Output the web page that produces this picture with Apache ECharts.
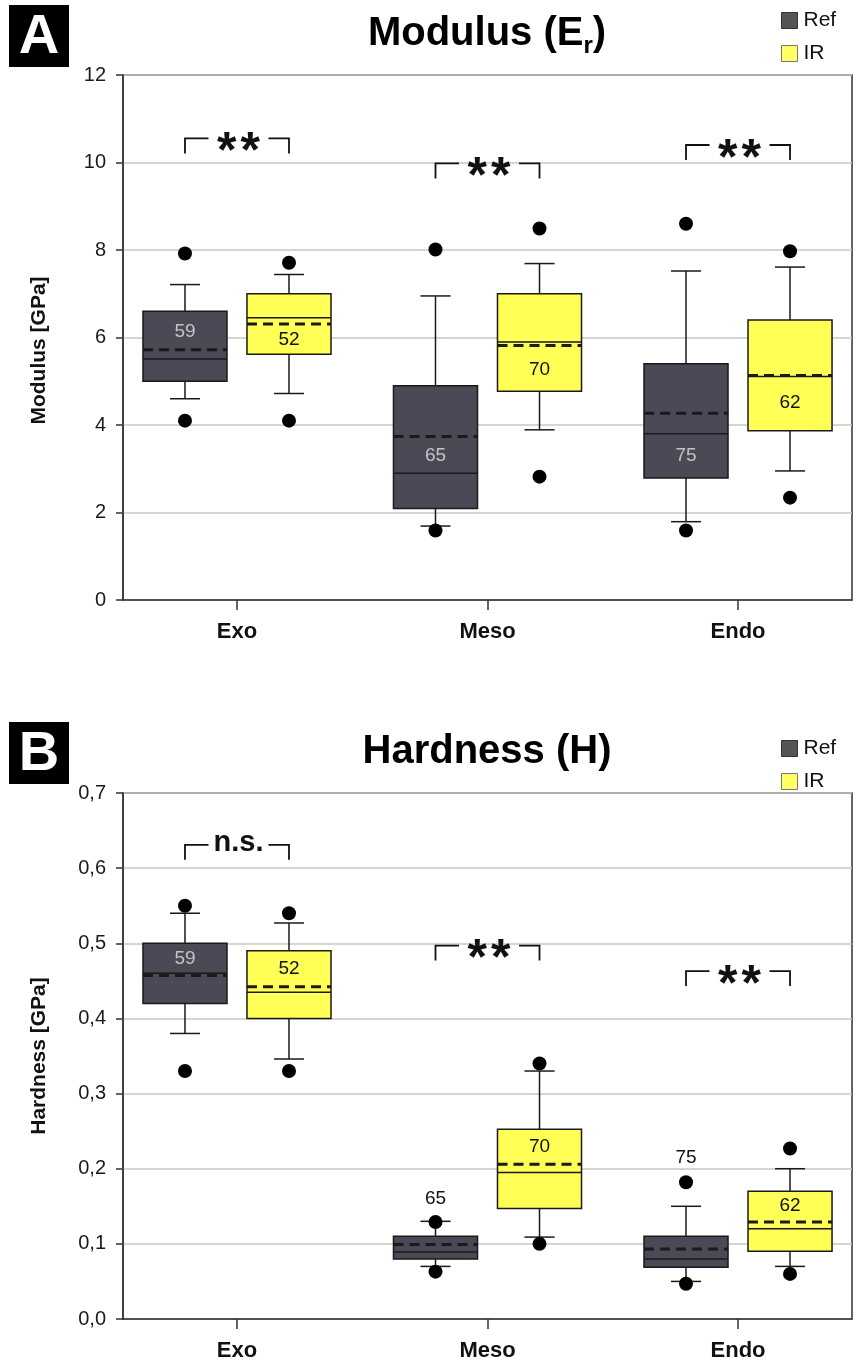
<!DOCTYPE html>
<html>
<head>
<meta charset="utf-8">
<script src="https://cdn.jsdelivr.net/npm/echarts@6/dist/echarts.min.js"></script>
<style>
  html, body { margin: 0; padding: 0; background: #fff; }
  #chart { width: 854px; height: 1363px; }
</style>
</head>
<body>
<div id="chart"></div>
<script>
const categories = ['Exo', 'Meso', 'Endo'];

// box stats per zone: [whisker low, Q1, median, Q3, whisker high]
const modRefBox = [[4.60, 5.00, 5.51, 6.60, 7.21], [1.69, 2.09, 2.90, 4.90, 6.95], [1.79, 2.79, 3.80, 5.40, 7.52]];
const modRefMean = [5.72, 3.74, 4.27];
const modRefOut = [[4.10, 7.92], [1.59, 8.01], [1.59, 8.60]];
const modIrBox = [[4.72, 5.62, 6.45, 7.00, 7.44], [3.89, 4.77, 5.90, 7.00, 7.69], [2.95, 3.87, 5.11, 6.40, 7.61]];
const modIrMean = [6.31, 5.82, 5.13];
const modIrOut = [[4.10, 7.71], [2.82, 8.49], [2.34, 7.97]];

const hardRefBox = [[0.38, 0.42, 0.46, 0.50, 0.54], [0.070, 0.080, 0.089, 0.110, 0.130], [0.050, 0.069, 0.080, 0.110, 0.150]];
const hardRefMean = [0.457, 0.099, 0.093];
const hardRefOut = [[0.33, 0.55], [0.063, 0.129], [0.047, 0.182]];
const hardIrBox = [[0.346, 0.40, 0.435, 0.49, 0.527], [0.109, 0.147, 0.195, 0.2525, 0.33], [0.070, 0.090, 0.12, 0.170, 0.20]];
const hardIrMean = [0.442, 0.206, 0.129];
const hardIrOut = [[0.33, 0.54], [0.10, 0.34], [0.06, 0.227]];

// sample sizes and the value where each n is written
const refN = [59, 65, 75];
const irN = [52, 70, 62];
const modRefNAt = [6.14, 3.30, 3.30];
const modIrNAt = [5.95, 5.27, 4.50];
const hardRefNAt = [0.479, 0.16, 0.214];
const hardIrNAt = [0.466, 0.229, 0.151];

// significance brackets
const modSig = ['**', '**', '**'];
const modSigAt = [10.55, 9.98, 10.40];
const hardSig = ['n.s.', '**', '**'];
const hardSigAt = [0.631, 0.497, 0.463];

const FONT = '"Liberation Sans", Arial, sans-serif';
const SHIFT = 0.2076;
const HALF = 0.1677;
const CAP = 0.06;
const REF_COLOR = '#4a4955';
const IR_COLOR = '#ffff55';

function boxData(box, mean, nAt, n) {
  return box.map((b, i) => [i].concat(b, [mean[i], nAt[i], n[i]]));
}

function outData(out, shift) {
  const d = [];
  out.forEach((vals, i) => vals.forEach(v => d.push([i + shift, v])));
  return d;
}

function line(x1, y1, x2, y2, extra) {
  return {
    type: 'line',
    shape: { x1, y1, x2, y2 },
    style: Object.assign({ stroke: '#1a1a1a', lineWidth: 1.5 }, extra || {})
  };
}

function boxSeries(name, gi, data, shift, fill, inColor) {
  return {
    type: 'custom',
    name: name,
    xAxisIndex: gi,
    yAxisIndex: gi,
    itemStyle: { color: fill },
    z: 3,
    silent: true,
    data: data,
    renderItem: function (params, api) {
      const x = api.value(0) + shift;
      const py = v => api.coord([x, v])[1];
      const cx = api.coord([x, 0])[0];
      const xl = api.coord([x - HALF, 0])[0];
      const xr = api.coord([x + HALF, 0])[0];
      const cl = api.coord([x - CAP, 0])[0];
      const cr = api.coord([x + CAP, 0])[0];
      const yLo = py(api.value(1)), yQ1 = py(api.value(2)), yMd = py(api.value(3));
      const yQ3 = py(api.value(4)), yHi = py(api.value(5)), yMean = py(api.value(6));
      const nAt = api.value(7);
      const inside = nAt > api.value(2) && nAt < api.value(4);
      return {
        type: 'group',
        children: [
          line(cx, yLo, cx, yQ1),
          line(cx, yQ3, cx, yHi),
          line(cl, yLo, cr, yLo),
          line(cl, yHi, cr, yHi),
          {
            type: 'rect',
            shape: { x: xl, y: yQ3, width: xr - xl, height: yQ1 - yQ3 },
            style: { fill: fill, stroke: '#1a1a1a', lineWidth: 1.5 }
          },
          line(xl, yMd, xr, yMd),
          line(xl, yMean, xr, yMean, { lineWidth: 3, lineDash: [10, 6] }),
          {
            type: 'text',
            x: cx,
            y: py(nAt),
            style: {
              text: String(api.value(8)),
              fill: inside ? inColor : '#111',
              font: '19px ' + FONT,
              align: 'center', verticalAlign: 'middle',
              textAlign: 'center', textVerticalAlign: 'middle'
            }
          }
        ]
      };
    }
  };
}

function outSeries(gi, data) {
  return {
    type: 'scatter',
    name: 'outlier',
    xAxisIndex: gi,
    yAxisIndex: gi,
    symbolSize: 14,
    itemStyle: { color: '#000', opacity: 1 },
    z: 5,
    silent: true,
    data: data
  };
}

function sigSeries(gi, labels, at) {
  return {
    type: 'custom',
    name: 'sig',
    xAxisIndex: gi,
    yAxisIndex: gi,
    z: 4,
    silent: true,
    data: at.map((v, i) => [i, v]),
    renderItem: function (params, api) {
      const i = api.value(0);
      const p = api.coord([i, api.value(1)]);
      const cx = p[0] + 1.5, ty = p[1];
      const lx = api.coord([i - SHIFT, 0])[0];
      const rx = api.coord([i + SHIFT, 0])[0];
      const lbl = labels[params.dataIndex];
      const ns = lbl === 'n.s.';
      const st = { stroke: '#111', lineWidth: 1.8, fill: 'none' };
      return {
        type: 'group',
        children: [
          { type: 'polyline', shape: { points: [[lx, ty + 15], [lx, ty], [cx - 30, ty]] }, style: st },
          { type: 'polyline', shape: { points: [[cx + 30, ty], [rx, ty], [rx, ty + 15]] }, style: st },
          {
            type: 'text',
            x: cx,
            y: ty + (ns ? -2 : 15),
            style: {
              text: ns ? lbl : lbl.split('').join('\u200a'),
              fill: '#111',
              font: 'bold ' + (ns ? 29 : 50) + 'px ' + FONT,
              align: 'center', verticalAlign: 'middle',
              textAlign: 'center', textVerticalAlign: 'middle'
            }
          }
        ]
      };
    }
  };
}

function xAxisFor(gi) {
  return {
    type: 'value',
    gridIndex: gi,
    min: -0.455,
    max: 2.455,
    axisLine: { show: true, onZero: false, lineStyle: { color: '#333', width: 1.5 } },
    axisTick: { show: true, length: 10, customValues: [0, 1, 2], lineStyle: { color: '#333', width: 1.5 } },
    axisLabel: {
      customValues: [0, 1, 2],
      formatter: v => categories[Math.round(v)],
      fontFamily: FONT, fontSize: 22, fontWeight: 'bold', color: '#111', margin: 21
    },
    splitLine: { show: false }
  };
}

function yAxisFor(gi, max, interval, name, fmt, pad) {
  return {
    type: 'value',
    gridIndex: gi,
    min: 0,
    max: max,
    interval: interval,
    name: name,
    nameLocation: 'middle',
    nameGap: 73,
    nameTextStyle: { fontFamily: FONT, fontSize: 21, fontWeight: 'bold', color: '#111', padding: pad },
    axisLine: { show: true, onZero: false, lineStyle: { color: '#333', width: 1.5 } },
    axisTick: { show: true, length: 7, lineStyle: { color: '#333', width: 1.5 } },
    axisLabel: { fontFamily: FONT, fontSize: 20, color: '#1a1a1a', margin: 17, formatter: fmt },
    splitLine: { show: true, lineStyle: { color: '#c8c8bc', width: 1.5 } }
  };
}

function legendFor(top) {
  return {
    orient: 'vertical',
    left: 781,
    top: top,
    padding: 0,
    itemWidth: 16,
    itemHeight: 16,
    itemGap: 12,
    icon: 'rect',
    textStyle: { fontFamily: FONT, fontSize: 21, color: '#111', padding: [0, 0, 0, 1] },
    data: [
      { name: 'Ref', itemStyle: { color: '#555555', borderColor: '#333', borderWidth: 1 } },
      { name: 'IR', itemStyle: { color: '#ffff66', borderColor: '#777', borderWidth: 1 } }
    ]
  };
}

function panelTag(letter, top) {
  return {
    type: 'group',
    left: 9,
    top: top,
    children: [
      { type: 'rect', shape: { x: 0, y: 0, width: 60, height: 62 }, style: { fill: '#000' } },
      {
        type: 'text', x: 30, y: 33,
        style: { text: letter, fill: '#fff', font: 'bold 56px ' + FONT, align: 'center', verticalAlign: 'middle' }
      }
    ]
  };
}

const chart = echarts.init(document.getElementById('chart'));

const option = {
  animation: false,
  backgroundColor: '#fff',
  textStyle: { fontFamily: FONT },
  title: [
    {
      text: '{t|Modulus (E}{s|r}{t|)}',
      left: 487,
      textAlign: 'center',
      top: 10,
      padding: 0,
      textStyle: {
        rich: {
          t: { fontFamily: FONT, fontSize: 40, fontWeight: 'bold', color: '#000', lineHeight: 48 },
          s: { fontFamily: FONT, fontSize: 24, fontWeight: 'bold', color: '#000', lineHeight: 26, verticalAlign: 'bottom' }
        }
      }
    },
    {
      text: 'Hardness (H)',
      left: 487,
      textAlign: 'center',
      top: 728,
      padding: 0,
      textStyle: { fontFamily: FONT, fontSize: 40, fontWeight: 'bold', color: '#000', lineHeight: 48 }
    }
  ],
  legend: [legendFor(10), legendFor(738)],
  graphic: [panelTag('A', 5), panelTag('B', 722)],
  grid: [
    { left: 123, top: 75, width: 729, height: 525, show: true, borderColor: '#333', borderWidth: 1.5, backgroundColor: 'transparent' },
    { left: 123, top: 793, width: 729, height: 526, show: true, borderColor: '#333', borderWidth: 1.5, backgroundColor: 'transparent' }
  ],
  xAxis: [xAxisFor(0), xAxisFor(1)],
  yAxis: [
    yAxisFor(0, 12, 2, 'Modulus [GPa]', v => String(v), [0, 26, 0, 0]),
    yAxisFor(1, 0.7, 0.1, 'Hardness [GPa]', v => v.toFixed(1).replace('.', ','), 0)
  ],
  series: [
    boxSeries('Ref', 0, boxData(modRefBox, modRefMean, modRefNAt, refN), -SHIFT, REF_COLOR, '#c4c4c4'),
    boxSeries('IR', 0, boxData(modIrBox, modIrMean, modIrNAt, irN), SHIFT, IR_COLOR, '#111'),
    outSeries(0, outData(modRefOut, -SHIFT).concat(outData(modIrOut, SHIFT))),
    sigSeries(0, modSig, modSigAt),
    boxSeries('Ref', 1, boxData(hardRefBox, hardRefMean, hardRefNAt, refN), -SHIFT, REF_COLOR, '#c4c4c4'),
    boxSeries('IR', 1, boxData(hardIrBox, hardIrMean, hardIrNAt, irN), SHIFT, IR_COLOR, '#111'),
    outSeries(1, outData(hardRefOut, -SHIFT).concat(outData(hardIrOut, SHIFT))),
    sigSeries(1, hardSig, hardSigAt)
  ]
};

chart.setOption(option);
</script>
</body>
</html>
